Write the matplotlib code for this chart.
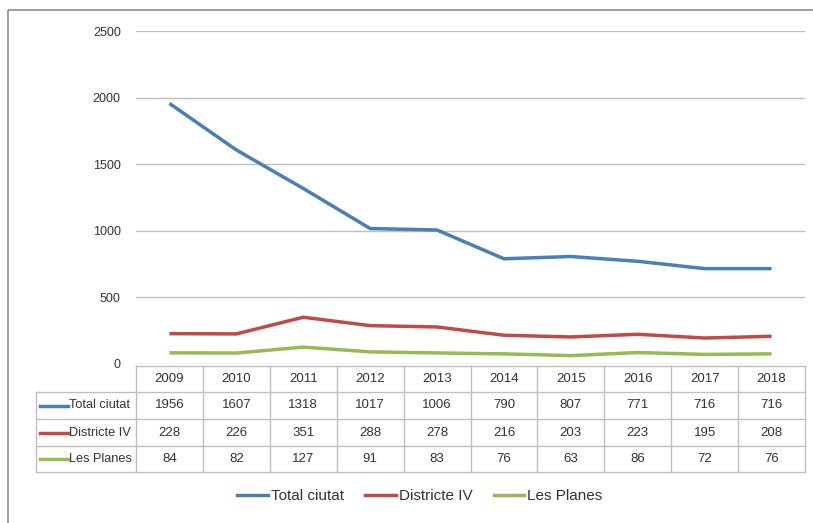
import matplotlib.pyplot as plt
from matplotlib.patches import Rectangle
from matplotlib.lines import Line2D

plt.rcParams['font.family'] = ['Liberation Sans', 'DejaVu Sans']

years = ['2009', '2010', '2011', '2012', '2013', '2014', '2015', '2016', '2017', '2018']
total_ciutat = [1956, 1607, 1318, 1017, 1006, 790, 807, 771, 716, 716]
districte_iv = [228, 226, 351, 288, 278, 216, 203, 223, 195, 208]
les_planes = [84, 82, 127, 91, 83, 76, 63, 86, 72, 76]

series_names = ['Total ciutat', 'Districte IV', 'Les Planes']
series_values = [total_ciutat, districte_iv, les_planes]
colors = ['#4A7EBB', '#BE4B48', '#98B954']

W, H = 813, 523
fig = plt.figure(figsize=(W / 100, H / 100), dpi=100)

# plot area in pixel coordinates
px_left, px_right, px_top, px_bottom = 136, 805, 31, 364
ax = fig.add_axes([px_left / W, 1 - px_bottom / H,
                   (px_right - px_left) / W, (px_bottom - px_top) / H])

x = list(range(len(years)))
for name, vals, c in zip(series_names, series_values, colors):
    ax.plot(x, vals, color=c, lw=2.5, label=name, solid_capstyle='butt')

ax.set_xlim(-0.5, len(years) - 0.5)
ax.set_ylim(0, 2500)
ax.set_yticks(range(0, 2501, 500))
ax.set_xticks([])
ax.grid(axis='y', color='#BFBFBF', lw=1)
ax.set_axisbelow(True)
for s in ax.spines.values():
    s.set_visible(False)
ax.tick_params(axis='y', length=0, pad=11, labelsize=9, colors='#333333')

# overlay for the data table, in pixel units
ov = fig.add_axes([0, 0, 1, 1], zorder=-1)
ov.set_xlim(0, W)
ov.set_ylim(H, 0)
ov.axis('off')

# outer chart border
ov.add_patch(Rectangle((8, 10), W, H, fill=False, ec='#8C8C8C', lw=1.2))

col_w = (px_right - px_left) / len(years)
row_tops = [366, 392, 419, 446, 472]
hdr_left = 36
gc = '#BFBFBF'

# horizontal lines
ov.plot([px_left, px_right], [row_tops[0]] * 2, color=gc, lw=1)
for yy in row_tops[1:]:
    ov.plot([hdr_left, px_right], [yy] * 2, color=gc, lw=1)
# vertical lines
for i in range(len(years) + 1):
    xx = px_left + i * col_w
    ov.plot([xx, xx], [row_tops[0], row_tops[-1]], color=gc, lw=1)
ov.plot([hdr_left, hdr_left], [row_tops[1], row_tops[-1]], color=gc, lw=1)

fs = 9.5
for i, yr in enumerate(years):
    cx = px_left + (i + 0.5) * col_w
    ov.text(cx, (row_tops[0] + row_tops[1]) / 2, yr, ha='center', va='center',
            fontsize=fs, color='#333333')
    for r, vals in enumerate(series_values):
        cy = (row_tops[r + 1] + row_tops[r + 2]) / 2
        ov.text(cx, cy, str(vals[i]), ha='center', va='center',
                fontsize=fs, color='#333333')

for r, (name, c) in enumerate(zip(series_names, colors)):
    cy = (row_tops[r + 1] + row_tops[r + 2]) / 2
    ov.plot([40, 68], [cy, cy], color=c, lw=2.5)
    ov.text(69, cy, name, ha='left', va='center', fontsize=9.2, color='#333333')

handles = [Line2D([0], [0], color=c, lw=2.5) for c in colors]
fig.legend(handles, series_names, loc='center', ncol=3,
           bbox_to_anchor=(420 / W, 1 - 496 / H), frameon=False,
           fontsize=11, handlelength=2.0, handletextpad=0.2, columnspacing=1.4,
           labelcolor='#333333')

fig.savefig('out.png', dpi=100)
